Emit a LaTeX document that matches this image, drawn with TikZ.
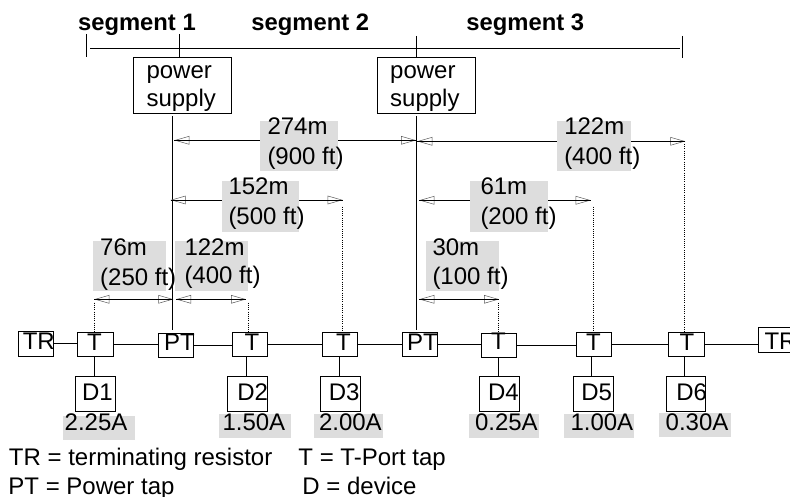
\documentclass[tikz,border=0pt]{standalone}
\usepackage{fontspec}
\setmainfont{Liberation Sans}
\usetikzlibrary{arrows.meta, positioning}
\definecolor{labelgray}{HTML}{DDDDDD}
% text start relative to the centre of its node
\newcommand{\offtext}[3]{\makebox[0pt][l]{\kern#1\raisebox{#2}[0pt][0pt]{#3}}}
\newcommand{\offtwo}[5]{\offtext{#1}{#2}{\begin{tabular}[t]{@{}l@{}}#3\\[#5]#4\end{tabular}}}

\begin{document}
\begin{tikzpicture}[x=1pt, y=-1pt, line width=0.9pt,
    every node/.style={font=\fontsize{24}{30}\selectfont, inner sep=0pt},
    busbox/.style={draw, minimum width=35.4pt, minimum height=24.5pt},
    devbox/.style={draw, minimum width=40pt, minimum height=35pt},
    supplybox/.style={draw, minimum width=98pt, minimum height=56pt},
    graybox/.style={fill=labelgray, minimum height=50pt},
    ampbox/.style={fill=labelgray, minimum height=24pt},
    segtext/.style={font=\fontsize{23.8}{30}\selectfont\bfseries, anchor=base west},
    legend/.style={anchor=base west},
    dimline/.style={{Triangle[open, length=15pt, width=8.5pt, line width=0.5pt, color=black!65]}-{Triangle[open, length=15pt, width=8.5pt, line width=0.5pt, color=black!65]},
      postaction={draw, arrows=-}},
    dotline/.style={line width=1pt, dash pattern=on 1pt off 1.2pt}]
  \useasboundingbox (0,0) rectangle (790,497);

  % Segments
  \node[segtext] (seg1) at (77.6,31) {segment 1};
  \node[segtext] (seg2) at (251,31) {segment 2};
  \node[segtext] (seg3) at (466,31) {segment 3};
  \coordinate (barl) at (90.3,48.3);
  \coordinate (barr) at (680,48.3);
  \draw (barl) -- (barr);
  \coordinate (tick1a) at (86.7,34);
  \coordinate (tick1b) at (86.7,57);
  \draw (tick1a) -- (tick1b);
  \coordinate (tick2) at (179.3,34);
  \coordinate (tick3) at (416.3,36);
  \coordinate (tick4a) at (682.3,36);
  \coordinate (tick4b) at (682.3,58);
  \draw (tick4a) -- (tick4b);

  % Power supplies
  \node[supplybox] (ps1) at (182.3,85.3) {\offtwo{-35.8pt}{7pt}{power}{supply}{-1.6pt}};
  \node[supplybox] (ps2) at (426.5,85.3) {\offtwo{-36.3pt}{7pt}{power}{supply}{-1.6pt}};
  \draw (tick2) -- (tick2 |- ps1.north);
  \draw (tick3) -- (tick3 |- ps2.north);

  % Bus
  \node[busbox] (tr1) at (36,343.8) {\offtext{-13.2pt}{-5.5pt}{TR}};
  \node[busbox, minimum width=36pt] (t1) at (95.3,344.5) {\offtext{-8.2pt}{-6.2pt}{T}};
  \node[busbox] (pt1) at (176,345.3) {\offtext{-12pt}{-5.4pt}{PT}};
  \node[busbox] (t2) at (250,344.3) {\offtext{-5.5pt}{-6.4pt}{T}};
  \node[busbox] (t3) at (340,344.3) {\offtext{-3.9pt}{-5.7pt}{T}};
  \node[busbox] (pt2) at (420,344.3) {\offtext{-12.8pt}{-6.4pt}{PT}};
  \node[busbox] (t4) at (499,345.3) {\offtext{-7.9pt}{-4.7pt}{T}};
  \node[busbox] (t5) at (594,344.3) {\offtext{-7.9pt}{-6.4pt}{T}};
  \node[busbox, minimum width=36.4pt] (t6) at (686.5,344.3) {\offtext{-7pt}{-6.4pt}{T}};
  \node[busbox] (tr2) at (776,339.8) {\offtext{-11.5pt}{-9.5pt}{TR}};
  \draw (tr1.east) -- (tr1.east -| t1.west);
  \draw (t1.east) -- (t1.east -| pt1.west);
  \draw (pt1.east) -- (pt1.east -| t2.west);
  \draw (t2.east) -- (t2.east -| t3.west);
  \draw (t3.east) -- (t3.east -| pt2.west);
  \draw (pt2.east) -- (pt2.east -| t4.west);
  \draw (t4.east) -- (t4.east -| t5.west);
  \draw (t5.east) -- (t5.east -| t6.west);
  \draw (t6.east) -- (t6.east -| tr2.west);

  % Devices
  \node[devbox] (d1) at (95.3,393.8) {\offtext{-13.3pt}{-6.9pt}{D1}};
  \node[devbox] (d2) at (247.7,393.8) {\offtext{-10.3pt}{-6.9pt}{D2}};
  \node[devbox] (d3) at (340.3,393.8) {\offtext{-11.5pt}{-6.9pt}{D3}};
  \node[devbox] (d4) at (499.3,393.8) {\offtext{-11.2pt}{-6.9pt}{D4}};
  \node[devbox] (d5) at (593.3,393.8) {\offtext{-11.9pt}{-6.9pt}{D5}};
  \node[devbox, minimum width=39.4pt] (d6) at (686,393.8) {\offtext{-9.6pt}{-6.9pt}{D6}};
  \coordinate (stem1) at (94.3,356.7);
  \coordinate (stem2) at (246.7,356.3);
  \coordinate (stem3) at (339.7,356.3);
  \coordinate (stem4) at (498.3,357.3);
  \coordinate (stem5) at (591.3,356.3);
  \coordinate (stem6) at (684.3,356.3);
  \draw (stem1) -- (stem1 |- d1.north);
  \draw (stem2) -- (stem2 |- d2.north);
  \draw (stem3) -- (stem3 |- d3.north);
  \draw (stem4) -- (stem4 |- d4.north);
  \draw (stem5) -- (stem5 |- d5.north);
  \draw (stem6) -- (stem6 |- d6.north);

  % Feeders
  \coordinate (feed1) at (172.3,116);
  \coordinate (feed2) at (416.3,116);
  \draw[shorten >=2.6pt] (feed1) -- (feed1 |- pt1.north);
  \draw[shorten >=1.6pt] (feed2) -- (feed2 |- pt2.north);

  % Distances
  \coordinate (a274l) at (174.3,140.3);
  \coordinate (a274r) at (416,140.3);
  \draw[dimline] (a274l) -- (a274r);
  \coordinate (a122l) at (417.3,141.3);
  \coordinate (a122r) at (685.3,141.3);
  \draw[dimline] (a122l) -- (a122r);
  \coordinate (a152l) at (170.7,200);
  \coordinate (a152r) at (342.7,200);
  \draw[dimline] (a152l) -- (a152r);
  \coordinate (a61l) at (419.3,200.3);
  \coordinate (a61r) at (590.7,200.3);
  \draw[dimline] (a61l) -- (a61r);
  \coordinate (a76l) at (94.3,299.3);
  \coordinate (a76r) at (173.3,299.3);
  \draw[dimline] (a76l) -- (a76r);
  \coordinate (b122l) at (176,299.3);
  \coordinate (b122r) at (246,299.3);
  \draw[dimline] (b122l) -- (b122r);
  \coordinate (a30l) at (419.3,299.3);
  \coordinate (a30r) at (499,299.3);
  \draw[dimline] (a30l) -- (a30r);

  % Dotted drops
  \coordinate (drop1) at (94.3,302.7);
  \coordinate (drop2) at (248.3,302.7);
  \coordinate (drop3) at (342.7,206.7);
  \coordinate (drop4) at (498.3,302.7);
  \coordinate (drop5) at (593.3,206.7);
  \coordinate (drop6) at (684.3,144);
  \draw[dotline] (drop1) -- (drop1 |- t1.north);
  \draw[dotline] (drop2) -- (drop2 |- t2.north);
  \draw[dotline] (drop3) -- (drop3 |- t3.north);
  \draw[dotline] (drop4) -- (drop4 |- t4.north);
  \draw[dotline] (drop5) -- (drop5 |- t5.north);
  \draw[dotline] (drop6) -- (drop6 |- t6.north);

  % Distance labels
  \node[graybox, minimum width=78pt] (l274) at (299,145.85) {\offtwo{-31.5pt}{11.15pt}{274m}{(900 ft)}{0pt}};
  \node[graybox, minimum width=73.7pt] (l122a) at (593.85,145.85) {\offtwo{-29.6pt}{11.15pt}{122m}{(400 ft)}{0pt}};
  \node[graybox, minimum width=77pt, minimum height=50.7pt] (l152) at (260.5,206.35) {\offtwo{-32pt}{11.35pt}{152m}{(500 ft)}{0pt}};
  \node[graybox, minimum width=77.7pt, minimum height=50.7pt] (l61) at (508.85,206.35) {\offtwo{-28.35pt}{11.35pt}{61m}{(200 ft)}{0pt}};
  \node[graybox, minimum width=73pt] (l76) at (129.5,266) {\offtwo{-29.3pt}{11pt}{76m}{(250 ft)}{0pt}};
  \node[graybox, minimum width=73pt] (l122b) at (211.5,266) {\offtwo{-27pt}{11pt}{122m}{(400 ft)}{-1.6pt}};
  \node[graybox, minimum width=73pt] (l30) at (462.5,266) {\offtwo{-30pt}{11pt}{30m}{(100 ft)}{-1pt}};

  % Currents
  \node[ampbox, minimum width=72pt] (i1) at (99,428) {\offtext{-34.3pt}{-2pt}{2.25A}};
  \node[ampbox, minimum width=72pt] (i2) at (255,426) {\offtext{-32.5pt}{-4pt}{1.50A}};
  \node[ampbox, minimum width=69pt] (i3) at (348.5,426) {\offtext{-29.5pt}{-4pt}{2.00A}};
  \node[ampbox, minimum width=70pt] (i4) at (504,426) {\offtext{-29pt}{-4pt}{0.25A}};
  \node[ampbox, minimum width=70pt] (i5) at (599,426) {\offtext{-28.5pt}{-4pt}{1.00A}};
  \node[ampbox, minimum width=72pt] (i6) at (695,425) {\offtext{-29.3pt}{-5pt}{0.30A}};

  % Legend
  \node[legend] (key1) at (8.5,465) {TR = terminating resistor};
  \node[legend] (key2) at (298,465) {T = T-Port tap};
  \node[legend] (key3) at (8,494.3) {PT = Power tap};
  \node[legend] (key4) at (302,494.3) {D = device};
\end{tikzpicture}
\end{document}
